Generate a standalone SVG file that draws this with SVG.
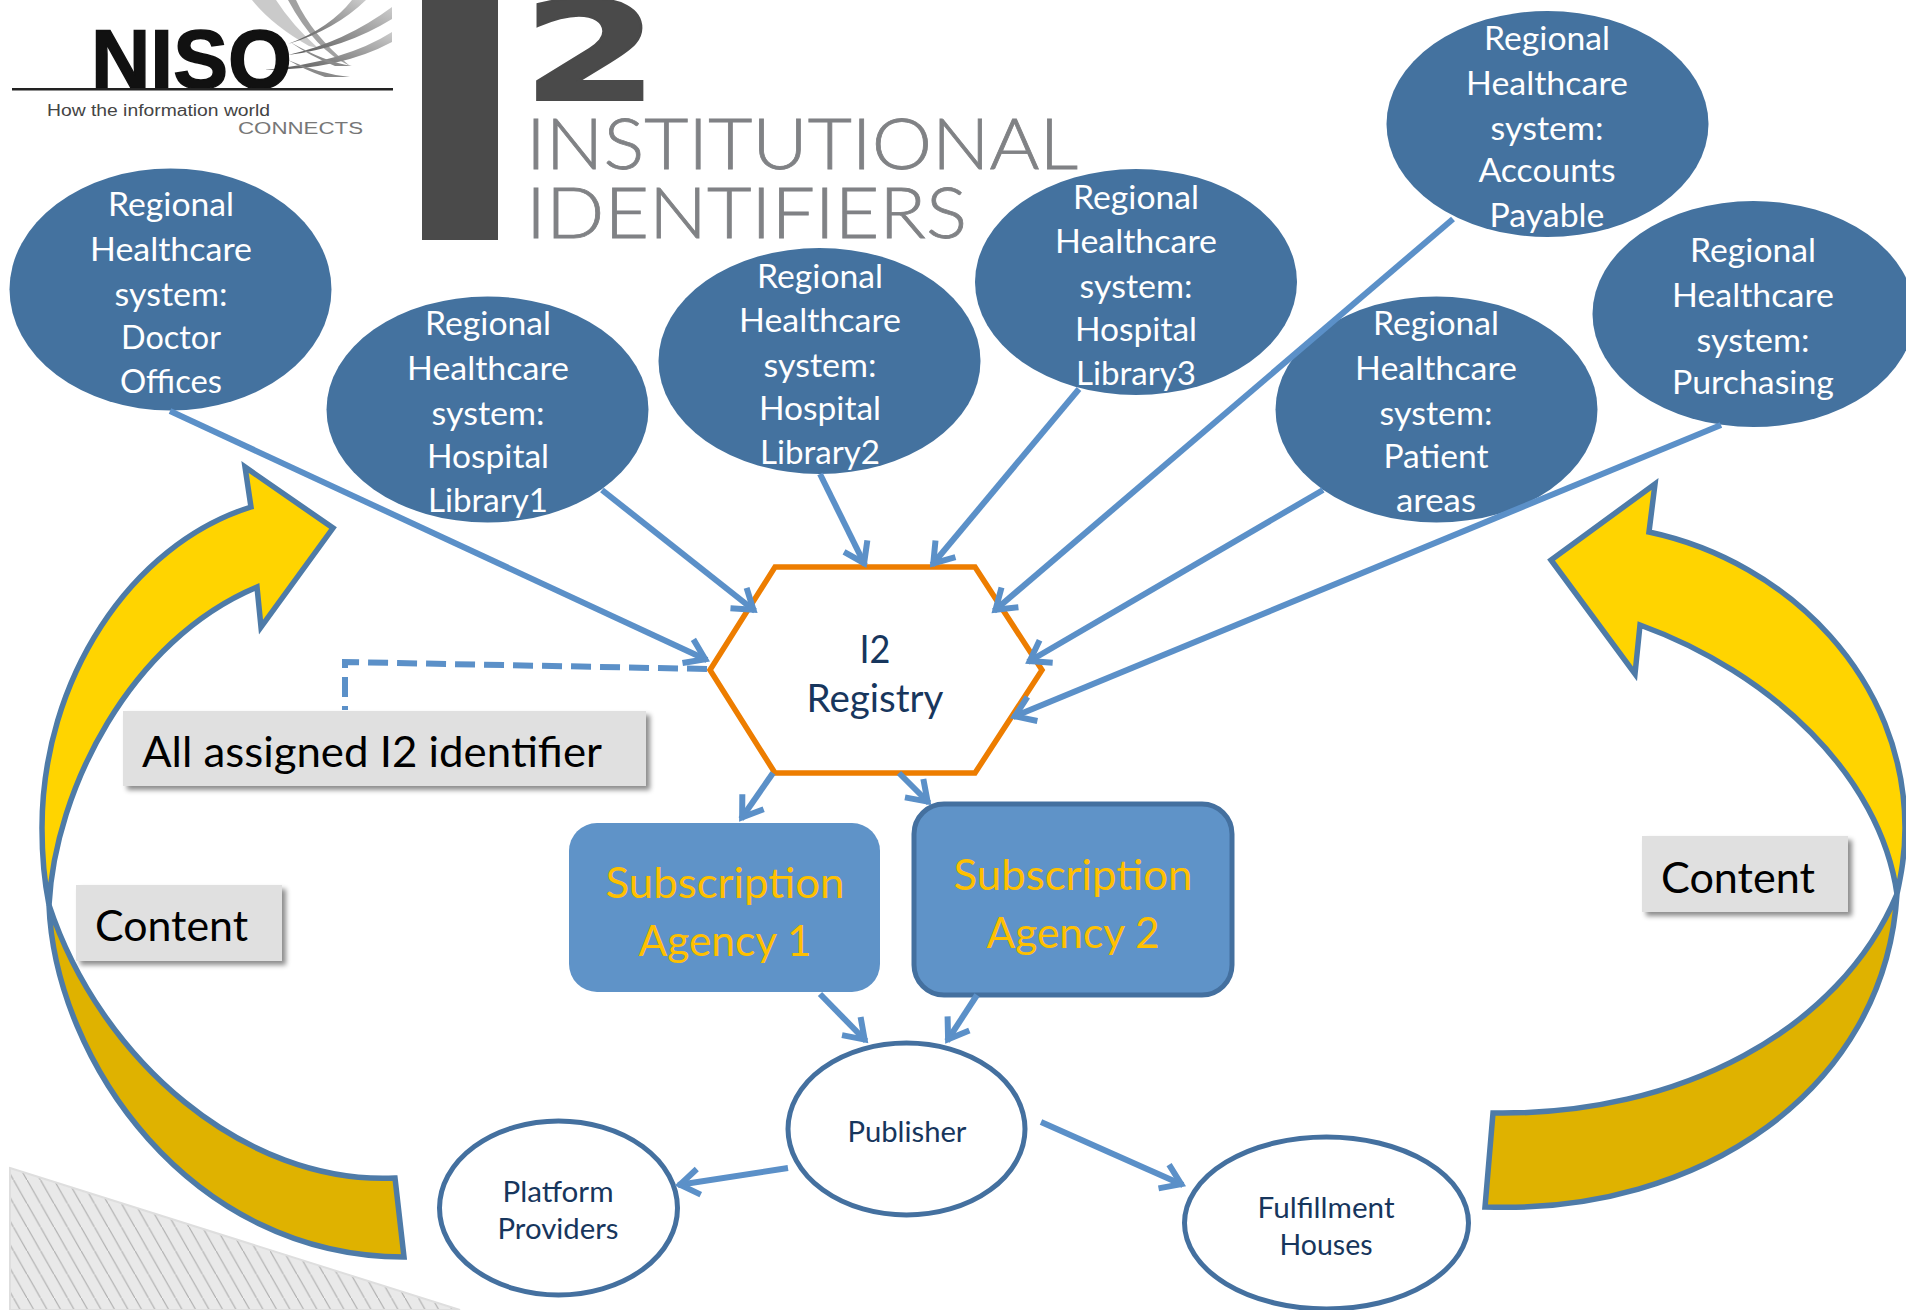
<svg xmlns="http://www.w3.org/2000/svg" width="1906" height="1310" viewBox="0 0 1906 1310">
<style>
text{font-family:"Lato","Open Sans","Liberation Sans",sans-serif}
.r text,text.w{fill:#fff;font-size:32px;text-anchor:middle}
.reg{fill:#44729F}
.pub{fill:#fff;stroke:#44709F;stroke-width:5}
.sm{fill:#17365D;font-size:28px;text-anchor:middle}
.lab{fill:#000;font-size:42px}
.ag{fill:#FFC000;font-size:42px;text-anchor:middle}
.box{fill:#E0E0E0;filter:url(#sh)}
.c{fill:none;stroke:#5B90C8;stroke-width:6;marker-end:url(#a)}
.arr{stroke:#4E7BA8;stroke-width:5.500;stroke-linejoin:miter}
.sw{fill:#8a8a8a}
</style>
<defs>
<marker id="a" markerUnits="userSpaceOnUse" markerWidth="40" markerHeight="40" refX="31" refY="20" orient="auto" viewBox="0 0 40 40"><path d="M10,7 L29,20 L10,33" fill="none" stroke="#5B90C8" stroke-width="6"/></marker>
<filter id="sh" x="-5%" y="-10%" width="115%" height="130%"><feDropShadow dx="4" dy="4" stdDeviation="2.5" flood-color="#000" flood-opacity=".45"/></filter>
<pattern id="hatch" patternUnits="userSpaceOnUse" width="13.5" height="23.6"><rect width="13.5" height="23.6" fill="#E9E9E9"/><path d="M-1,-1.75 L14.5,25.35" stroke="#ABABAB" stroke-width="1.1"/></pattern>
<linearGradient id="g" x1="0" y1="1" x2="1" y2="0"><stop offset="0" stop-color="#555"/><stop offset="1" stop-color="#ccc"/></linearGradient>
</defs>
<g id="decor">
<polygon points="10,1168 460,1310 10,1310" fill="url(#hatch)" stroke="#DEDEDE" stroke-width="2"/>
</g>
<g id="logo-niso">
<path class="sw" fill-opacity=".45" d="M252,0 L276,0 Q292,25 318,48 L309,46 Q272,25 252,0Z"/>
<path class="sw" d="M288,0 L296,0 Q312,35 350,66 Q315,50 288,0Z" fill-opacity=".8"/>
<path d="M288,44 Q330,28 352,0 L366,0 Q335,30 288,44Z" fill="url(#g)"/>
<path d="M288,55 Q345,42 392,7 L392,19 Q345,48 288,55Z" fill="url(#g)"/>
<path d="M264,70 Q345,62 392,32 L392,42 Q340,70 264,70Z" fill="url(#g)"/>
<path class="sw" d="M290,42 Q325,62 352,66 L335,66 Q310,56 290,42Z"/>
<path class="sw" d="M288,60 Q320,74 350,77 L325,77 Q305,70 288,60Z"/>
<text x="91" y="88" font-size="84" font-weight="700" fill="#111" stroke="#111" stroke-width="1.500" textLength="201" lengthAdjust="spacingAndGlyphs" style="font-family:'Liberation Sans',sans-serif">NISO</text>
<rect x="12" y="88" width="381" height="2.500" fill="#222"/>
<text x="47" y="116" font-size="16" fill="#444" textLength="223" lengthAdjust="spacingAndGlyphs" style="font-family:'Liberation Sans',sans-serif">How the information world</text>
<text x="238" y="134" font-size="16" fill="#777" textLength="125" lengthAdjust="spacingAndGlyphs" style="font-family:'Liberation Sans',sans-serif">CONNECTS</text>
</g>
<g id="logo-i2">
<rect x="422" y="0" width="76" height="240" fill="#4A4A4A"/>
<text x="522" y="100" font-size="137" font-weight="700" fill="#4A4A4A" stroke="#4A4A4A" stroke-width="2" textLength="137" lengthAdjust="spacingAndGlyphs" style="font-family:'DejaVu Sans',sans-serif">2</text>
<text x="526" y="169" font-size="71" font-weight="300" fill="#808285" stroke="#808285" stroke-width=".8" textLength="552" lengthAdjust="spacingAndGlyphs">INSTITUTIONAL</text>
<text x="526" y="238" font-size="71" font-weight="300" fill="#808285" stroke="#808285" stroke-width=".8" textLength="441" lengthAdjust="spacingAndGlyphs">IDENTIFIERS</text>
</g>
<g id="arrow-left">
<path class="arr" fill="#FFD400" d="M251,507 C130,545 42,680 42,828 C42,860 45,885 49,905 C55,790 130,640 257,587 L261,627 L333,528 L245,467 Z"/>
<path class="arr" fill="#DFB200" d="M49,905 C55,1060 190,1257 404,1257 L395,1178 C245,1185 100,1060 49,905 Z"/>
</g>
<g id="arrow-right">
<path class="arr" fill="#FFD400" d="M1649,532 C1790,562 1905,680 1905,828 C1905,855 1901,875 1897,894 C1880,775 1770,672 1640,625 L1635,674 L1551,560 L1655,484 Z"/>
<path class="arr" fill="#DFB200" d="M1897,894 C1885,1090 1700,1215 1485,1207 L1493,1113 C1680,1116 1840,1030 1897,894 Z"/>
</g>
<g id="node-doctor" class="r"><ellipse class="reg" cx="170.500" cy="289.500" rx="161" ry="121"/><text x="171" y="216" textLength="126" lengthAdjust="spacingAndGlyphs">Regional</text><text x="171" y="261" textLength="162" lengthAdjust="spacingAndGlyphs">Healthcare</text><text x="171" y="306" textLength="113" lengthAdjust="spacingAndGlyphs">system:</text><text x="171" y="349" textLength="100" lengthAdjust="spacingAndGlyphs">Doctor</text><text x="171" y="393" textLength="102" lengthAdjust="spacingAndGlyphs">Offices</text></g>
<g id="node-lib1" class="r"><ellipse class="reg" cx="487.500" cy="409.500" rx="161" ry="113"/><text x="488" y="335" textLength="126" lengthAdjust="spacingAndGlyphs">Regional</text><text x="488" y="380" textLength="162" lengthAdjust="spacingAndGlyphs">Healthcare</text><text x="488" y="425" textLength="113" lengthAdjust="spacingAndGlyphs">system:</text><text x="488" y="468" textLength="122" lengthAdjust="spacingAndGlyphs">Hospital</text><text x="488" y="512" textLength="120" lengthAdjust="spacingAndGlyphs">Library1</text></g>
<g id="node-lib2" class="r"><ellipse class="reg" cx="819.500" cy="361" rx="161" ry="113"/><text x="820" y="288" textLength="126" lengthAdjust="spacingAndGlyphs">Regional</text><text x="820" y="332" textLength="162" lengthAdjust="spacingAndGlyphs">Healthcare</text><text x="820" y="377" textLength="113" lengthAdjust="spacingAndGlyphs">system:</text><text x="820" y="420" textLength="122" lengthAdjust="spacingAndGlyphs">Hospital</text><text x="820" y="464" textLength="120" lengthAdjust="spacingAndGlyphs">Library2</text></g>
<g id="node-lib3" class="r"><ellipse class="reg" cx="1136" cy="282" rx="161" ry="113"/><text x="1136" y="209" textLength="126" lengthAdjust="spacingAndGlyphs">Regional</text><text x="1136" y="253" textLength="162" lengthAdjust="spacingAndGlyphs">Healthcare</text><text x="1136" y="298" textLength="113" lengthAdjust="spacingAndGlyphs">system:</text><text x="1136" y="341" textLength="122" lengthAdjust="spacingAndGlyphs">Hospital</text><text x="1136" y="385" textLength="120" lengthAdjust="spacingAndGlyphs">Library3</text></g>
<g id="node-payable" class="r"><ellipse class="reg" cx="1547.500" cy="124" rx="161" ry="113"/><text x="1547" y="50" textLength="126" lengthAdjust="spacingAndGlyphs">Regional</text><text x="1547" y="95" textLength="162" lengthAdjust="spacingAndGlyphs">Healthcare</text><text x="1547" y="140" textLength="113" lengthAdjust="spacingAndGlyphs">system:</text><text x="1547" y="182" textLength="137" lengthAdjust="spacingAndGlyphs">Accounts</text><text x="1547" y="227" textLength="115" lengthAdjust="spacingAndGlyphs">Payable</text></g>
<g id="node-patient" class="r"><ellipse class="reg" cx="1436.500" cy="409.500" rx="161" ry="113"/><text x="1436" y="335" textLength="126" lengthAdjust="spacingAndGlyphs">Regional</text><text x="1436" y="380" textLength="162" lengthAdjust="spacingAndGlyphs">Healthcare</text><text x="1436" y="425" textLength="113" lengthAdjust="spacingAndGlyphs">system:</text><text x="1436" y="468" textLength="105" lengthAdjust="spacingAndGlyphs">Patient</text><text x="1436" y="512" textLength="80" lengthAdjust="spacingAndGlyphs">areas</text></g>
<g id="node-purchasing" class="r"><ellipse class="reg" cx="1753.500" cy="314" rx="161" ry="113"/><text x="1753" y="262" textLength="126" lengthAdjust="spacingAndGlyphs">Regional</text><text x="1753" y="307" textLength="162" lengthAdjust="spacingAndGlyphs">Healthcare</text><text x="1753" y="352" textLength="113" lengthAdjust="spacingAndGlyphs">system:</text><text x="1753" y="394" textLength="162" lengthAdjust="spacingAndGlyphs">Purchasing</text></g>
<g id="node-registry"><polygon points="710,670 775,567 975,567 1042,670 975,773 775,773" fill="#fff" stroke="#ED7D00" stroke-width="5.500"/><text class="sm" x="875" y="663" style="font-size:38px" textLength="31" lengthAdjust="spacingAndGlyphs">I2</text><text class="sm" x="875" y="712" style="font-size:38px" textLength="137" lengthAdjust="spacingAndGlyphs">Registry</text></g>
<g id="node-agency1"><rect x="569" y="823" width="311" height="169" rx="28" fill="#5F93C8"/><text class="ag" x="725" y="898" textLength="239" lengthAdjust="spacingAndGlyphs">Subscription</text><text class="ag" x="725" y="956" textLength="173" lengthAdjust="spacingAndGlyphs">Agency 1</text></g>
<g id="node-agency2"><rect x="914" y="804" width="318" height="191" rx="30" fill="#5F93C8" stroke="#44709F" stroke-width="5"/><text class="ag" x="1073" y="890" textLength="239" lengthAdjust="spacingAndGlyphs">Subscription</text><text class="ag" x="1073" y="948" textLength="173" lengthAdjust="spacingAndGlyphs">Agency 2</text></g>
<g id="node-publisher"><ellipse class="pub" cx="906.500" cy="1129" rx="118.500" ry="86"/><text class="sm" x="907" y="1142" textLength="119" lengthAdjust="spacingAndGlyphs">Publisher</text></g>
<g id="node-platform"><ellipse class="pub" cx="558.500" cy="1208" rx="119" ry="87"/><text class="sm" x="558" y="1202" textLength="111" lengthAdjust="spacingAndGlyphs">Platform</text><text class="sm" x="558" y="1239" textLength="121" lengthAdjust="spacingAndGlyphs">Providers</text></g>
<g id="node-fulfillment"><ellipse class="pub" cx="1326.500" cy="1223" rx="142" ry="86"/><text class="sm" x="1326" y="1218" textLength="137" lengthAdjust="spacingAndGlyphs">Fulfillment</text><text class="sm" x="1326" y="1255" textLength="93" lengthAdjust="spacingAndGlyphs">Houses</text></g>
<g id="label-assigned"><rect class="box" x="123" y="711" width="523" height="75"/><text class="lab" x="142" y="767" textLength="460" lengthAdjust="spacingAndGlyphs">All assigned I2 identifier</text></g>
<g id="label-content-left"><rect class="box" x="76" y="885" width="206" height="76"/><text class="lab" x="95" y="941" textLength="153" lengthAdjust="spacingAndGlyphs">Content</text></g>
<g id="label-content-right"><rect class="box" x="1642" y="836" width="206" height="76"/><text class="lab" x="1661" y="893" textLength="154" lengthAdjust="spacingAndGlyphs">Content</text></g>
<g id="connectors">
<path class="c" d="M170,411 L707,660"/>
<path class="c" d="M602,490 L755,611"/>
<path class="c" d="M820,474 L865,565"/>
<path class="c" d="M1079,389 L932,565"/>
<path class="c" d="M1453,219 L994,611"/>
<path class="c" d="M1323,490 L1028,662"/>
<path class="c" d="M1721,425 L1013,717"/>
<path d="M707,669 L345,662 L345,710" fill="none" stroke="#5B90C8" stroke-width="6" stroke-dasharray="20 9"/>
<path class="c" d="M773,773 L741,819"/>
<path class="c" d="M899,773 L929,803"/>
<path class="c" d="M820,994 L866,1041"/>
<path class="c" d="M977,995 L947,1041"/>
<path class="c" d="M788,1168 L678,1185"/>
<path class="c" d="M1041,1122 L1183,1185"/>
</g>
</svg>
